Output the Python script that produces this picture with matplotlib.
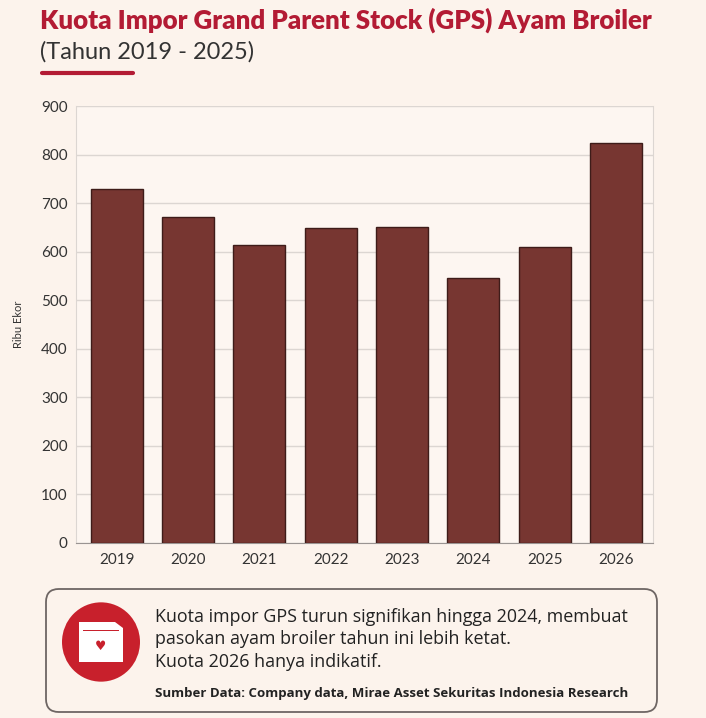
import numpy as np
import matplotlib
matplotlib.use("Agg")
import matplotlib.pyplot as plt
from matplotlib.patches import FancyBboxPatch, Circle, Rectangle, Polygon

# data (ribu ekor)
years = ["2019", "2020", "2021", "2022", "2023", "2024", "2025", "2026"]
quota = [730, 672, 614, 649, 651, 545, 609, 824]
yticks = [0, 100, 200, 300, 400, 500, 600, 700, 800, 900]

title = "Kuota Impor Grand Parent Stock (GPS) Ayam Broiler"
subtitle = "(Tahun 2019 - 2025)"
note_lines = ["Kuota impor GPS turun signifikan hingga 2024, membuat",
              "pasokan ayam broiler tahun ini lebih ketat.",
              "Kuota 2026 hanya indikatif."]
source = "Sumber Data: Company data, Mirae Asset Sekuritas Indonesia Research"

BG = "#FCF3EC"; BAR = "#773631"; RED = "#B31B34"; ICON = "#C8202C"
W, H = 706, 718

fig = plt.figure(figsize=(W / 100, H / 100), dpi=100, facecolor=BG)
ax = fig.add_axes([76 / W, 1 - 543 / H, (653 - 76) / W, (543 - 106) / H])
ax.set_facecolor("#FDF6F1")

x = np.arange(len(years))
ax.bar(x, quota, width=0.73, color=BAR, edgecolor="#3E1C19", linewidth=1.0, zorder=3)
ax.set_xlim(-0.57, len(years) - 0.48)
ax.set_ylim(0, 900)
ax.set_yticks(yticks)
ax.set_xticks(x, years)
ax.tick_params(length=0, labelsize=11, colors="#333333", pad=6)
ax.tick_params(axis="x", pad=7)
for t in ax.get_xticklabels() + ax.get_yticklabels():
    t.set_fontfamily("Lato")
ax.grid(axis="y", color="#DCD6D2", lw=1.0, zorder=0)
for s in ["top", "right", "left"]:
    ax.spines[s].set_color("#DCD6D2")
ax.spines["top"].set_visible(False)
ax.spines["bottom"].set_color("#9A9492")
ax.set_ylabel("Ribu Ekor", fontsize=8, color="#333333", family="Lato", labelpad=12)

# header
fig.text(40 / W, 1 - 20 / H, title, fontsize=18.6, fontweight="heavy", family="Lato",
         color=RED, va="center", ha="left")
fig.text(40 / W, 1 - 52 / H, subtitle, fontsize=17, family="Lato", color="#333333",
         va="center", ha="left")
fig.add_artist(plt.Line2D([42 / W, 133 / W], [1 - 73 / H] * 2, color=RED, lw=3,
                          solid_capstyle="round", transform=fig.transFigure))

# note box
box = FancyBboxPatch((46 / W, 1 - 712 / H), (657 - 46) / W, (712 - 589) / H,
                     boxstyle="round,pad=0,rounding_size=0.018", transform=fig.transFigure,
                     facecolor=BG, edgecolor="#6E6664", lw=1.3)
fig.add_artist(box)

# icon: red circle with a small calendar
cx, cy, r = 101, 642, 39
fig.add_artist(Circle((cx / W, 1 - cy / H), r / W, transform=fig.transFigure,
                      facecolor=ICON, edgecolor="none"))
fig.add_artist(Rectangle(((cx - 22) / W, 1 - (cy + 20) / H), 44 / W, 34 / H,
                         transform=fig.transFigure, facecolor="white", edgecolor="none"))
fig.add_artist(Polygon([((cx - 22) / W, 1 - (cy - 14) / H), ((cx - 22) / W, 1 - (cy - 20) / H),
                        ((cx + 14) / W, 1 - (cy - 20) / H), ((cx + 22) / W, 1 - (cy - 14) / H)],
                       closed=True, transform=fig.transFigure, facecolor="white", edgecolor="none"))
fig.add_artist(Rectangle(((cx - 18) / W, 1 - (cy - 11) / H), 36 / W, 1.5 / H,
                         transform=fig.transFigure, facecolor=ICON, edgecolor="none"))
fig.text(cx / W, 1 - (cy + 4) / H, "♥", fontsize=9, color=ICON, ha="center", va="center",
         family="DejaVu Sans")

for i, line in enumerate(note_lines):
    fig.text(155 / W, 1 - (617 + 22.5 * i) / H, line, fontsize=12.9, family="Open Sans",
             color="#222222", va="center", ha="left")
fig.text(155 / W, 1 - 694 / H, source, fontsize=9.5, family="Open Sans", fontweight="bold",
         color="#222222", va="center", ha="left")

fig.savefig("out.png", dpi=100, facecolor=BG)
